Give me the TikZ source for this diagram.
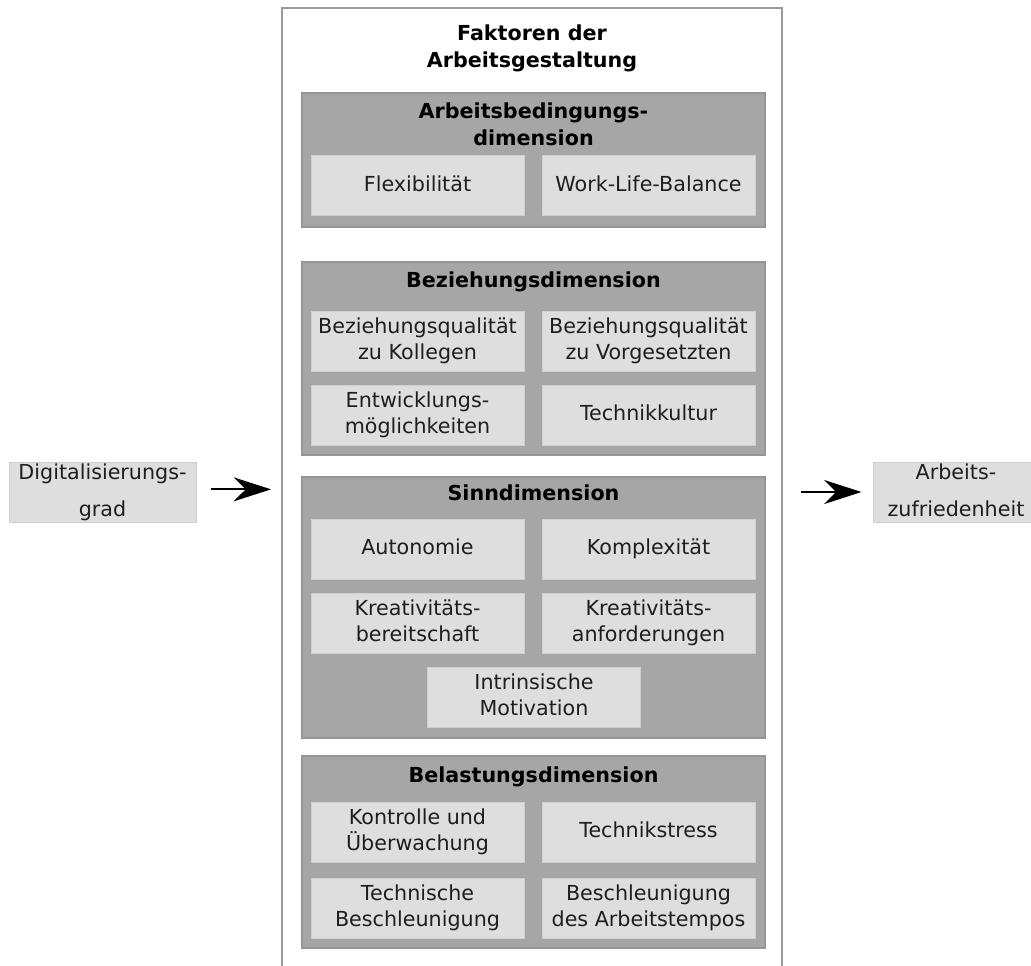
\documentclass[tikz,border=0pt]{standalone}
\usepackage{fontspec}
\setmainfont{DejaVu Sans}
\usetikzlibrary{arrows.meta}
\definecolor{dimfill}{HTML}{A6A6A6}
\definecolor{dimline}{HTML}{959595}
\definecolor{cellfill}{HTML}{DEDEDE}
\definecolor{cellline}{HTML}{CFCFCF}
\definecolor{frameline}{HTML}{9A9A9A}
\definecolor{ink}{HTML}{1E1E1E}
% balanced strut: keeps single and double lines optically centred
\newcommand{\cstrut}{\rule[-0.2em]{0pt}{0.9em}}

\begin{document}
\begin{tikzpicture}[x=0.75pt,y=-0.75pt,
  struts/.style={execute at begin node=\cstrut, execute at end node=\cstrut},
  txt/.style={font=\fontsize{15.5}{19.5}\selectfont, align=center, text=ink, struts},
  head/.style={font=\fontsize{15.5}{20.25}\selectfont\bfseries, align=center, text=black, struts},
  cell/.style={txt, draw=cellline, fill=cellfill, line width=0.75pt, inner sep=0pt,
    minimum width=159.75pt, minimum height=45pt},
  dimbox/.style={draw=dimline, fill=dimfill, line width=0.9pt, inner sep=0pt,
    minimum width=347.25pt},
  side/.style={font=\fontsize{15.5}{27.75}\selectfont, align=center, text=ink, struts,
    draw=cellline, fill=cellfill, line width=0.75pt, inner sep=0pt, minimum height=45pt},
  arr/.style={line width=1.5pt, draw=black, -{Stealth[length=28pt,width=18pt,inset=9pt]}}
]
\useasboundingbox (0,0) rectangle (1031,965);
\fill[white] (0,0) rectangle (1031,965);

% outer frame (runs past the lower page edge)
\node[draw=frameline, line width=1.5pt, inner sep=0pt,
  minimum width=375pt, minimum height=744pt] (frame) at (532,504) {};
\node[head] (title) at (532,48.5) {Faktoren der\\Arbeitsgestaltung};

% Arbeitsbedingungsdimension
\node[dimbox, minimum height=100.5pt] (d1) at (533.5,160) {};
\node[head] (h1) at (533.5,126.5) {Arbeitsbedingungs-\\dimension};
\node[cell] (flex) at (417.5,185.5) {Flexibilität};
\node[cell] (wlb) at (648.5,185.5) {Work-Life-Balance};

% Beziehungsdimension
\node[dimbox, minimum height=144.75pt] (d2) at (533.5,358.5) {};
\node[head] (h2) at (533.5,282) {Beziehungsdimension};
\node[cell] (bqk) at (417.5,341) {Beziehungsqualität\\zu Kollegen};
\node[cell] (bqv) at (648.5,341) {Beziehungsqualität\\zu Vorgesetzten};
\node[cell] (entw) at (417.5,415) {Entwicklungs-\\möglichkeiten};
\node[cell] (tkult) at (648.5,415) {Technikkultur};

% Sinndimension
\node[dimbox, minimum height=195.75pt] (d3) at (533.5,607.5) {};
\node[head] (h3) at (533.5,495) {Sinndimension};
\node[cell] (auto) at (417.5,549) {Autonomie};
\node[cell] (kompl) at (648.5,549) {Komplexität};
\node[cell] (kbereit) at (417.5,623) {Kreativitäts-\\bereitschaft};
\node[cell] (kanf) at (648.5,623) {Kreativitäts-\\anforderungen};
\node[cell] (intr) at (534,697) {Intrinsische\\Motivation};

% Belastungsdimension
\node[dimbox, minimum height=144pt] (d4) at (533.5,852) {};
\node[head] (h4) at (533.5,777) {Belastungsdimension};
\node[cell] (kontr) at (417.5,832) {Kontrolle und\\Überwachung};
\node[cell] (tstress) at (648.5,832) {Technikstress};
\node[cell] (tbeschl) at (417.5,908) {Technische\\Beschleunigung};
\node[cell] (tempo) at (648.5,908) {Beschleunigung\\des Arbeitstempos};

% input and outcome
\node[side, minimum width=140.25pt] (dig) at (102.5,492) {Digitalisierungs-\\grad};
\node[side, minimum width=124.5pt] (zuf) at (956,492) {Arbeits-\\zufriedenheit};

\draw[arr] ([xshift=10.5pt,yshift=2pt]dig.east) -- ([xshift=-7.5pt,yshift=2pt]dig.east -| frame.west);
\draw[arr] ([xshift=13.5pt]zuf.west -| frame.east) -- ([xshift=-8.25pt]zuf.west);
\end{tikzpicture}
\end{document}
